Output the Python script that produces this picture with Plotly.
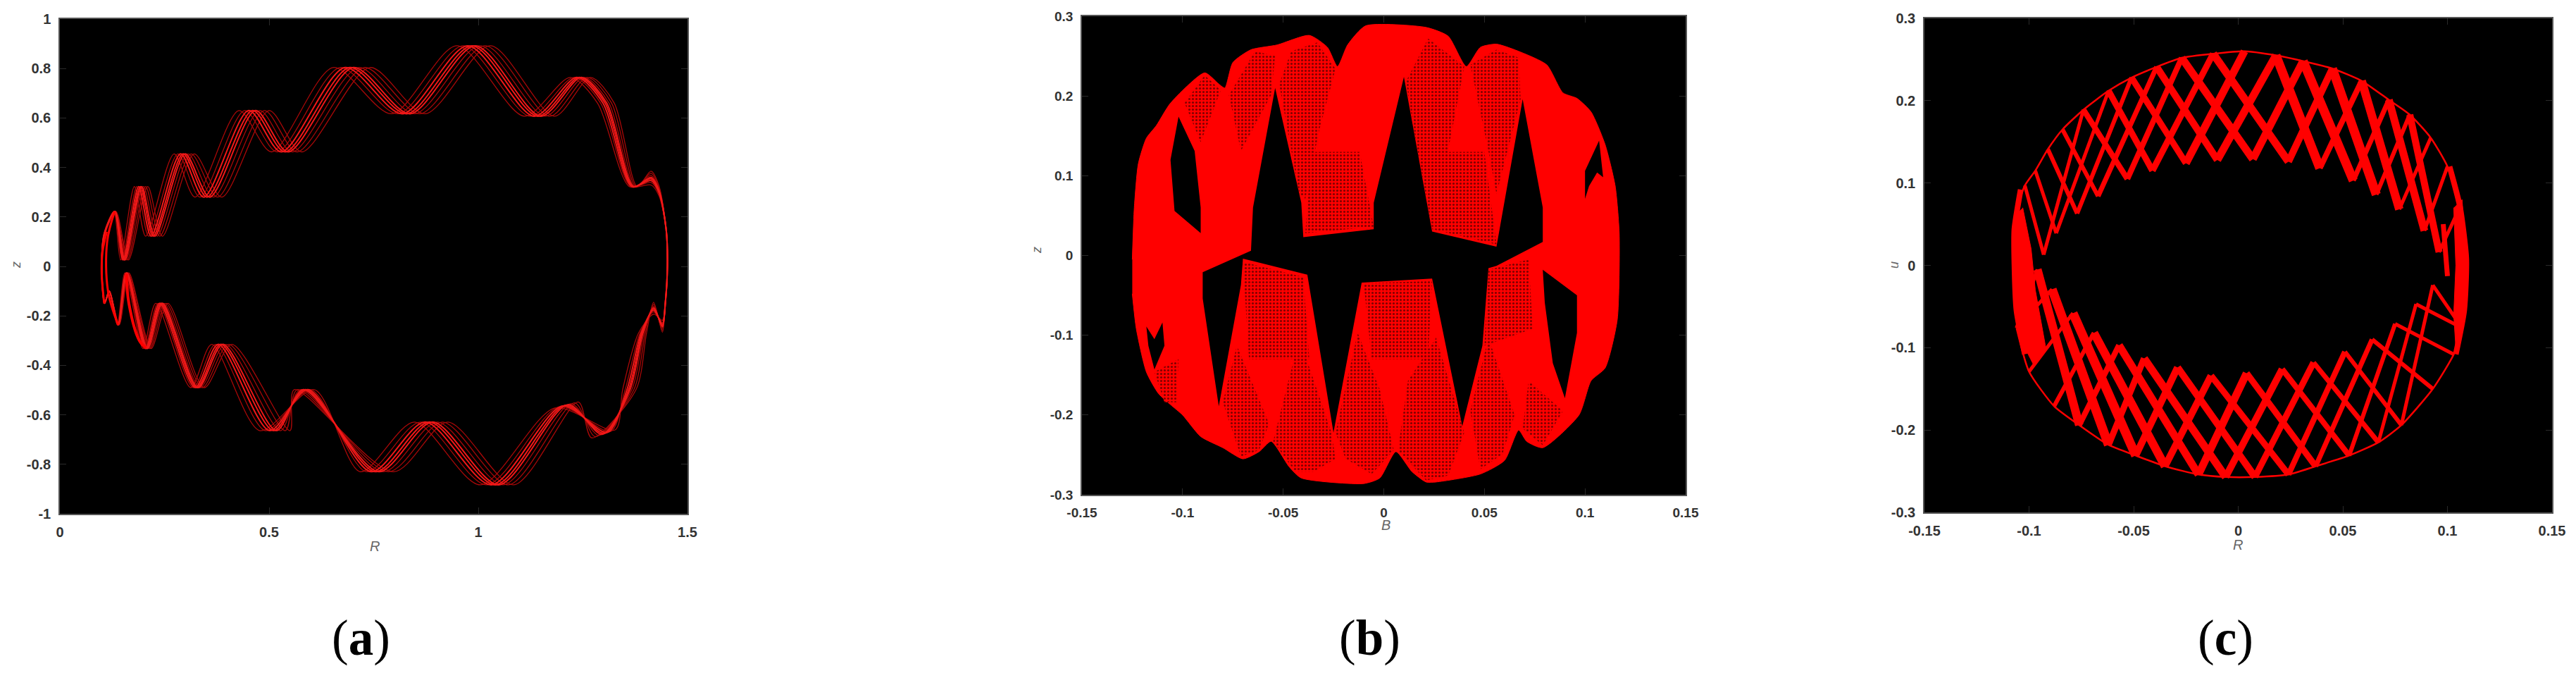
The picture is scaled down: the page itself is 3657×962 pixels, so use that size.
import plotly.graph_objects as go

W, H = 3657, 962

# ---------- panel (a): central strand, with the strand-band spread read at each vertex
A_R = [.100,.106,.131,.152,.19,.22,.291,.347,.455,.533,.686,.823,.979,1.137,1.238,1.30,1.368,1.413,1.432,1.449,1.452,
       1.447,1.44,1.419,1.39,1.357,1.306,1.204,1.035,.877,.748,.59,.505,.381,.325,.24,.206,.159,.139,.118,.107,.100]
A_U = [0,.13,.222,.026,.323,.122,.455,.28,.63,.463,.804,.617,.892,.607,.764,.66,.323,.35,.30,.149,0,
       -.149,-.236,-.175,-.27,-.498,-.673,-.563,-.883,-.629,-.83,-.498,-.664,-.315,-.49,-.149,-.332,-.026,-.236,-.1,-.149,0]
A_SPREAD_R = [0,.002,.003,.012,.02,.025,.03,.04,.045,.045,.055,.05,.05,.045,.03,.025,.012,0,0,0,0,
              0,0,0,.012,.02,-.035,.035,.05,.05,.05,-.03,.045,.03,.02,.018,.012,.006,.003,0,0,0]
A_SPREAD_U = [0,0,0,0,0,0,0,0,0,0,0,0,0,0,0,0,0,.035,.025,0,0,
              0,-.03,.03,0,0,-.02,.015,0,0,0,0,0,0,0,0,0,0,0,0,0,0]
A_DIM_STRANDS = [-.6,-.3,.5,.75,1.0]
A_BRIGHT_STRANDS = [-.08,.12,.28]
A_LOOP1_R = [.112,.102,.100,.106]
A_LOOP1_U = [.14,.06,-.03,-.15]
A_LOOP2_R = [.131,.113,.115,.139]
A_LOOP2_U = [.222,.10,-.10,-.236]
A_LOOP3_R = [.159,.165,.19,.206]
A_LOOP3_U = [-.03,-.15,-.30,-.33]

# ---------- panel (b): outline, black gaps, dotted regions
B_OUTER_S = [-.125,-.124,-.122,-.118,-.113,-.106,-.089,-.082,-.079,-.075,-.066,-.053,-.037,-.028,-.023,-.018,-.009,.021,.032,.041,.048,.056,.068,.081,.089,.096,.103,.110,.115,.117,
             .116,.110,.103,.097,.079,.071,.067,.060,.048,.026,.021,.014,.006,-.002,-.010,-.041,-.047,-.056,-.062,-.070,-.080,-.091,-.100,-.106,-.112,-.118,-.123,-.125]
B_OUTER_U = [-.005,.060,.115,.147,.163,.191,.229,.215,.210,.242,.258,.264,.276,.261,.237,.264,.288,.286,.275,.237,.261,.265,.255,.239,.204,.197,.180,.139,.087,.028,
             -.081,-.141,-.157,-.200,-.241,-.233,-.219,-.257,-.274,-.284,-.284,-.271,-.246,-.279,-.286,-.279,-.265,-.233,-.246,-.255,-.241,-.227,-.200,-.187,-.173,-.146,-.092,-.048]
B_GAP_S = [-.054,-.041,-.040,-.005,-.005,.010,.024,.056,.069,.079,.079,.056,.052,.049,.039,.024,-.011,-.025,-.038,-.070,-.071,-.082,-.090,-.090,-.066,-.065,None,
           -.102,-.106,-.104,-.091,-.091,-.094,None,
           .079,.096,.096,.090,.084,.080,None,
           .107,.100,.100,.102,.106,.109,None,
           -.118,-.117,-.114,-.109,-.110,-.114]
B_GAP_U = [.210,.066,.023,.033,.066,.224,.030,.011,.196,.060,.017,-.013,-.016,-.113,-.214,-.029,-.034,-.222,-.024,-.004,-.037,-.189,-.054,-.021,.006,.060,None,
           .174,.120,.056,.028,.060,.131,None,
           -.018,-.050,-.097,-.179,-.135,-.059,None,
           .144,.106,.071,.087,.104,.098,None,
           -.089,-.113,-.143,-.113,-.084,-.105]
B_DOT_S = [-.052,-.046,-.033,-.024,-.032,-.039,-.042,None, -.039,-.036,-.012,-.005,None,
           .011,.022,.040,.034,.024,.016,None, .024,.031,.050,.056,None,
           .043,.056,.067,.068,.056,.052,None, -.099,-.089,-.081,-.091,None,
           -.077,-.064,-.054,-.056,-.071,None, -.010,.024,.022,-.006,None,
           -.024,-.013,-.002,.005,-.006,-.019,None, .007,.012,.026,.040,.032,.021,None,
           -.070,-.040,-.037,-.067,None, -.055,-.042,-.026,-.024,-.035,-.044,None,
           -.080,-.073,-.057,-.062,-.071,None, .043,.052,.065,.059,.048,None,
           .069,.072,.089,.079,None, .052,.072,.074,.050,None, -.114,-.102,-.103,-.109]
B_DOT_U = [.215,.256,.267,.234,.158,.071,.077,None, .028,.130,.130,.036,None,
           .218,.272,.237,.158,.033,.142,None, .033,.130,.130,.014,None,
           .239,.258,.248,.196,.077,.131,None, .191,.226,.207,.142,None,
           .201,.256,.250,.201,.131,None, -.035,-.032,-.130,-.130,None,
           -.222,-.097,-.168,-.244,-.274,-.255,None, -.244,-.157,-.103,-.222,-.276,-.282,None,
           -.008,-.027,-.130,-.130,None, -.233,-.103,-.222,-.255,-.271,-.271,None,
           -.184,-.113,-.211,-.244,-.252,None, -.195,-.103,-.200,-.249,-.268,None,
           -.217,-.157,-.195,-.238,None, -.018,-.005,-.092,-.113,None, -.146,-.130,-.184,-.184]

# ---------- panel (c): lattice ends and strand thickness
C_UP_IN_R = [-.093,-.087,-.077,-.067,-.053,-.041,-.025,-.010,.007,.024,.039,.055,.066,.077,.089,.096]
C_UP_IN_U = [.013,.039,.063,.084,.105,.115,.124,.128,.129,.126,.118,.103,.086,.068,.042,.016]
C_UP_OUT_R = [-.105,-.102,-.097,-.091,-.084,-.074,-.062,-.051,-.039,-.027,-.012,.003,.018,.031,.045,.059,.072,.082,.092,.100,.106]
C_UP_OUT_U = [.076,.097,.115,.141,.165,.189,.212,.228,.241,.252,.257,.260,.255,.248,.239,.224,.201,.183,.155,.120,.071]
C_UP_LEFT_LINK = [1,2,3,4,5,6,7,8,9,10,12,13,14,15,16,17]
C_UP_RIGHT_LINK = [5,6,7,8,9,10,11,12,13,14,15,16,17,18,19,20]
C_UP_LEFT_W = [5,5,6,6,8,9,9,10,11,11,13,13,13,12,11,10]
C_UP_RIGHT_W = [5,5,6,7,8,9,11,11,11,10,8,7,6,5,5,5]
C_LOW_IN_R = [-.096,-.089,-.079,-.069,-.057,-.045,-.029,-.013,.004,.021,.036,.051,.064,.075,.085,.093]
C_LOW_IN_U = [-.005,-.029,-.058,-.082,-.097,-.113,-.124,-.134,-.131,-.126,-.118,-.105,-.090,-.071,-.047,-.024]
C_LOW_OUT_R = [-.106,-.100,-.088,-.076,-.062,-.049,-.035,-.019,-.006,.008,.024,.037,.053,.067,.078,.093,.103,.107]
C_LOW_OUT_U = [-.076,-.129,-.171,-.194,-.218,-.231,-.244,-.254,-.257,-.257,-.254,-.244,-.231,-.215,-.194,-.150,-.108,-.076]
C_LOW_LEFT_LINK = [0,0,1,2,3,4,5,6,7,8,9,10,11,12,13,14]
C_LOW_RIGHT_LINK = [3,4,5,6,7,8,9,10,11,12,13,14,15,16,17,17]
C_LOW_LEFT_W = [5,5,5,6,8,9,10,10,11,10,9,8,7,6,5,5]
C_LOW_RIGHT_W = [12,13,13,12,11,11,10,9,9,8,7,6,6,5,5,5]
C_MASS_LEFT_R = [-.107,-.107,-.104,-.098,-.092,-.097,-.099,-.103]
C_MASS_LEFT_U = [.06,-.03,-.09,-.12,-.10,-.03,.02,.07]
C_MASS_RIGHT_R = [.107,.109,.108,.104,.103,.104,.103]
C_MASS_RIGHT_U = [.08,.0,-.06,-.10,-.06,0,.07]
C_ARC_LEFT_R = [-.104,-.107,-.107,-.106,-.102]
C_ARC_LEFT_U = [.092,.044,.002,-.055,-.108]
C_ARC_RIGHT_R = [.101,.106,.109,.108,.104]
C_ARC_RIGHT_U = [.120,.071,.008,-.055,-.108]
C_ARC_RIGHT2_R = [.098,.100]
C_ARC_RIGHT2_U = [.050,-.013]

# ---------- ticks and text
A_X_TICKS = [0,.5,1,1.5]; A_X_TEXT = ["0","0.5","1","1.5"]
A_Y_TICKS = [-1,-.8,-.6,-.4,-.2,0,.2,.4,.6,.8,1]
A_Y_TEXT = ["-1","-0.8","-0.6","-0.4","-0.2","0","0.2","0.4","0.6","0.8","1"]
BC_X_TICKS = [-.15,-.1,-.05,0,.05,.1,.15]
BC_X_TEXT = ["-0.15","-0.1","-0.05","0","0.05","0.1","0.15"]
BC_Y_TICKS = [-.3,-.2,-.1,0,.1,.2,.3]
BC_Y_TEXT = ["-0.3","-0.2","-0.1","0","0.1","0.2","0.3"]
CAPTIONS = ["a","b","c"]
X_LABELS = ["R","B","R"]
Y_LABELS = ["z","z","u"]

RED = "#ff0000"
fig = go.Figure()

# (a)
for k in A_DIM_STRANDS:
    fig.add_trace(go.Scatter(x=[r+k*d for r,d in zip(A_R,A_SPREAD_R)], y=[u+k*d for u,d in zip(A_U,A_SPREAD_U)],
        mode="lines", line=dict(color="#a80808", width=1.3, shape="spline", smoothing=0.8), xaxis="x", yaxis="y", hoverinfo="skip"))
for k in A_BRIGHT_STRANDS:
    fig.add_trace(go.Scatter(x=[r+k*d for r,d in zip(A_R,A_SPREAD_R)], y=[u+k*d for u,d in zip(A_U,A_SPREAD_U)],
        mode="lines", line=dict(color="#f01818", width=2, shape="spline", smoothing=0.8), xaxis="x", yaxis="y", hoverinfo="skip"))
for xs, ys, w in ((A_LOOP1_R, A_LOOP1_U, 3), (A_LOOP2_R, A_LOOP2_U, 3), (A_LOOP3_R, A_LOOP3_U, 4)):
    fig.add_trace(go.Scatter(x=xs, y=ys, mode="lines", line=dict(color="#ff0000", width=w, shape="spline"),
                             xaxis="x", yaxis="y", hoverinfo="skip"))

# (b)
fig.add_trace(go.Scatter(x=B_OUTER_S, y=B_OUTER_U, mode="lines", fill="toself", fillcolor=RED,
                         line=dict(color=RED, width=1, shape="spline", smoothing=0.6),
                         xaxis="x2", yaxis="y2", hoverinfo="skip"))
fig.add_trace(go.Scatter(x=B_DOT_S, y=B_DOT_U, mode="lines", fill="toself", line=dict(width=0), fillcolor=RED,
                         fillpattern=dict(shape=".", size=5, solidity=0.3, fgcolor="#000000", bgcolor=RED),
                         xaxis="x2", yaxis="y2", hoverinfo="skip"))
fig.add_trace(go.Scatter(x=B_GAP_S, y=B_GAP_U, mode="lines", fill="toself", fillcolor="#000000", line=dict(width=0),
                         xaxis="x2", yaxis="y2", hoverinfo="skip"))

# (c)
def c_line(xs, ys, w, spline=True):
    fig.add_trace(go.Scatter(x=xs, y=ys, mode="lines", xaxis="x3", yaxis="y3", hoverinfo="skip",
        line=dict(color=RED, width=w, shape="spline" if spline else "linear", smoothing=0.6)))

def lattice(in_r, in_u, out_r, out_u, left, right, wl, wr):
    for i in range(len(in_r)):
        a, b = left[i], right[i]
        c_line([out_r[a], in_r[i]], [out_u[a], in_u[i]], wl[i], False)
        c_line([in_r[i], out_r[b]], [in_u[i], out_u[b]], wr[i], False)

lattice(C_UP_IN_R, C_UP_IN_U, C_UP_OUT_R, C_UP_OUT_U, C_UP_LEFT_LINK, C_UP_RIGHT_LINK, C_UP_LEFT_W, C_UP_RIGHT_W)
lattice(C_LOW_IN_R, C_LOW_IN_U, C_LOW_OUT_R, C_LOW_OUT_U, C_LOW_LEFT_LINK, C_LOW_RIGHT_LINK, C_LOW_LEFT_W, C_LOW_RIGHT_W)
c_line(C_UP_OUT_R, C_UP_OUT_U, 2.5)
c_line(C_LOW_OUT_R, C_LOW_OUT_U, 2.5)
for xs, ys in ((C_MASS_LEFT_R, C_MASS_LEFT_U), (C_MASS_RIGHT_R, C_MASS_RIGHT_U)):
    fig.add_trace(go.Scatter(x=xs, y=ys, mode="lines", fill="toself", fillcolor=RED, line=dict(color=RED, width=1),
                             xaxis="x3", yaxis="y3", hoverinfo="skip"))
c_line(C_ARC_LEFT_R, C_ARC_LEFT_U, 8)
c_line(C_ARC_RIGHT_R, C_ARC_RIGHT_U, 8)
c_line(C_ARC_RIGHT2_R, C_ARC_RIGHT2_U, 7)

def axis(rng, vals, text, dom, anchor, size):
    return dict(range=rng, tickvals=vals, ticktext=text, domain=dom, anchor=anchor, showgrid=False, zeroline=False,
                automargin=False,
                ticks="inside", ticklen=9, tickwidth=1, tickcolor="#2a2a2a", showline=True, mirror="ticks", linecolor="#555555",
                linewidth=1.5, ticklabelstandoff=7, tickangle=0,
                tickfont=dict(family="Liberation Sans", size=size, color="#333333", weight=700))

BOX = [(85,976,27,729),(1536,2393,23,702),(2732,3623,26,727)]
def xd(b): return [b[0]/W, b[1]/W]
def yd(b): return [1-b[3]/H, 1-b[2]/H]

annos = []
CAP_X = [512,1944,3159]
XL = [(532,775),(1967,745),(3177,773)]
YL = [(23,376),(1472,355),(2689,376)]
for i in range(3):
    annos.append(dict(text=f"(<b>{CAPTIONS[i]}</b>)", x=CAP_X[i]/W, y=1-905/H, xref="paper", yref="paper", showarrow=False,
                      xanchor="center", yanchor="middle", font=dict(family="Liberation Serif", size=71, color="#000000")))
    annos.append(dict(text=f"<i>{X_LABELS[i]}</i>", x=XL[i][0]/W, y=1-XL[i][1]/H, xref="paper", yref="paper", showarrow=False,
                      xanchor="center", yanchor="middle", font=dict(family="Liberation Sans", size=20, color="#666666")))
    annos.append(dict(text=f"<i>{Y_LABELS[i]}</i>", x=YL[i][0]/W, y=1-YL[i][1]/H, xref="paper", yref="paper", showarrow=False,
                      xanchor="center", yanchor="middle", textangle=-90, font=dict(family="Liberation Sans", size=18, color="#666666")))

fig.update_layout(
    width=W, height=H, margin=dict(l=0,r=0,t=0,b=0), showlegend=False,
    paper_bgcolor="#ffffff", plot_bgcolor="#000000", annotations=annos,
    xaxis=axis([0,1.5], A_X_TICKS, A_X_TEXT, xd(BOX[0]), "y", 20),
    yaxis=axis([-1,1], A_Y_TICKS, A_Y_TEXT, yd(BOX[0]), "x", 20),
    xaxis2=axis([-.15,.15], BC_X_TICKS, BC_X_TEXT, xd(BOX[1]), "y2", 19),
    yaxis2=axis([-.3,.3], BC_Y_TICKS, BC_Y_TEXT, yd(BOX[1]), "x2", 19),
    xaxis3=axis([-.15,.15], BC_X_TICKS, BC_X_TEXT, xd(BOX[2]), "y3", 20),
    yaxis3=axis([-.3,.3], BC_Y_TICKS, BC_Y_TEXT, yd(BOX[2]), "x3", 20),
)
fig.write_html("out.html", post_script="document.body.style.margin='0';document.body.style.overflow='hidden';",
               config=dict(displayModeBar=False))
